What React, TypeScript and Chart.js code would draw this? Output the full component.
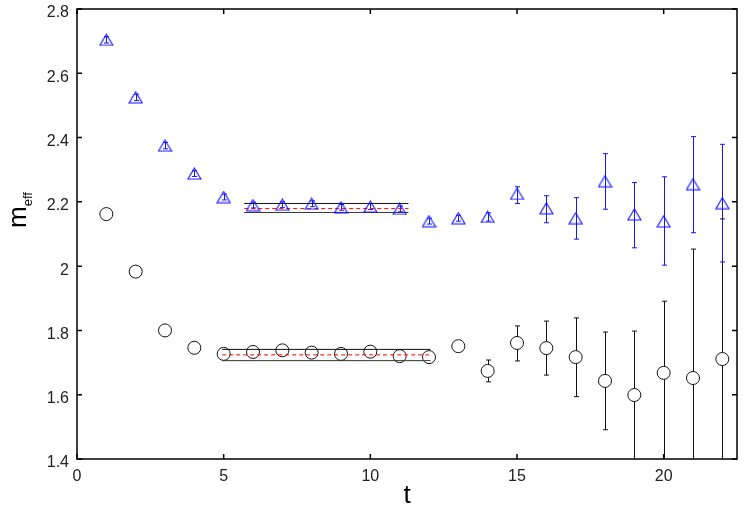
import React, { useEffect, useRef } from "react";
import { Chart, registerables } from "chart.js";

Chart.register(...registerables);

// ---- data ----
const tValues = [1, 2, 3, 4, 5, 6, 7, 8, 9, 10, 11, 12, 13, 14, 15, 16, 17, 18, 19, 20, 21, 22];

const circleMeff = [2.162, 1.983, 1.8, 1.746, 1.727, 1.733, 1.738, 1.731, 1.727, 1.734, 1.72, 1.717, 1.751, 1.674, 1.761, 1.745, 1.717, 1.643, 1.599, 1.668, 1.652, 1.711];
const circleErrLow = [2.157, 1.978, 1.795, 1.741, 1.722, 1.728, 1.733, 1.726, 1.722, 1.729, 1.715, 1.712, 1.746, 1.64, 1.705, 1.661, 1.594, 1.491, 1.39, 1.3, 1.25, 1.25];
const circleErrHigh = [2.167, 1.988, 1.805, 1.751, 1.732, 1.738, 1.743, 1.736, 1.732, 1.739, 1.725, 1.722, 1.756, 1.708, 1.814, 1.829, 1.839, 1.795, 1.798, 1.891, 2.053, 2.147];

const triMeff = [2.704, 2.525, 2.375, 2.288, 2.215, 2.19, 2.191, 2.194, 2.183, 2.185, 2.178, 2.14, 2.149, 2.153, 2.225, 2.18, 2.149, 2.264, 2.161, 2.139, 2.255, 2.196];
const triErrLow = [2.694, 2.515, 2.365, 2.279, 2.206, 2.181, 2.182, 2.185, 2.174, 2.176, 2.169, 2.131, 2.14, 2.14, 2.195, 2.135, 2.084, 2.177, 2.057, 2.003, 2.104, 2.013];
const triErrHigh = [2.714, 2.535, 2.385, 2.297, 2.224, 2.199, 2.2, 2.203, 2.192, 2.194, 2.187, 2.149, 2.158, 2.166, 2.247, 2.219, 2.213, 2.35, 2.26, 2.278, 2.403, 2.379];

// fit bands: [central, lower, upper] over a t range
const circleFitRange = [4.95, 12.05];
const circleFit = [1.724, 1.706, 1.741];
const triFitRange = [5.7, 11.3];
const triFit = [2.179, 2.167, 2.195];

const xTicks = [0, 5, 10, 15, 20];
const xTickLabels = ["0", "5", "10", "15", "20"];
const yTicks = [1.4, 1.6, 1.8, 2.0, 2.2, 2.4, 2.6, 2.8];
const yTickLabels = ["1.4", "1.6", "1.8", "2", "2.2", "2.4", "2.6", "2.8"];

const xTitle = "t";
const yTitleMain = "m";
const yTitleSub = "eff";

const BLUE = "#1414ff";
const FONT = "'Liberation Sans', Arial, sans-serif";

function makeTriangle(): HTMLCanvasElement {
  const c = document.createElement("canvas");
  c.width = 15;
  c.height = 13;
  const ctx = c.getContext("2d")!;
  ctx.strokeStyle = BLUE;
  ctx.lineWidth = 1.1;
  ctx.beginPath();
  ctx.moveTo(7.5, 1);
  ctx.lineTo(14, 12);
  ctx.lineTo(1, 12);
  ctx.closePath();
  ctx.stroke();
  return c;
}

const decorPlugin = {
  id: "decor",
  beforeDatasetsDraw(chart: any) {
    const { ctx, chartArea } = chart;
    const xs = chart.scales.x;
    const ys = chart.scales.y;
    ctx.save();
    ctx.beginPath();
    ctx.rect(chartArea.left, chartArea.top, chartArea.right - chartArea.left, chartArea.bottom - chartArea.top);
    ctx.clip();
    const drawBars = (low: number[], high: number[], color: string) => {
      ctx.strokeStyle = color;
      ctx.lineWidth = 1;
      for (let i = 0; i < tValues.length; i++) {
        const x = Math.round(xs.getPixelForValue(tValues[i])) + 0.5;
        const y1 = ys.getPixelForValue(low[i]);
        const y2 = ys.getPixelForValue(high[i]);
        ctx.beginPath();
        ctx.moveTo(x, y1);
        ctx.lineTo(x, y2);
        ctx.moveTo(x - 2.5, y1);
        ctx.lineTo(x + 2.5, y1);
        ctx.moveTo(x - 2.5, y2);
        ctx.lineTo(x + 2.5, y2);
        ctx.stroke();
      }
    };
    drawBars(circleErrLow, circleErrHigh, "#111");
    drawBars(triErrLow, triErrHigh, BLUE);
    ctx.restore();
  },
  afterDraw(chart: any) {
    const { ctx, chartArea } = chart;
    const xs = chart.scales.x;
    const ys = chart.scales.y;
    const { left, right, top, bottom } = chartArea;
    ctx.save();
    ctx.strokeStyle = "#000";
    ctx.lineWidth = 1.5;
    ctx.strokeRect(left, top, right - left, bottom - top);
    ctx.lineWidth = 1.5;
    ctx.beginPath();
    const tl = 5;
    yTicks.forEach((v) => {
      const y = ys.getPixelForValue(v);
      ctx.moveTo(left, y);
      ctx.lineTo(left + tl, y);
      ctx.moveTo(right, y);
      ctx.lineTo(right - tl, y);
    });
    xTicks.forEach((v) => {
      const x = xs.getPixelForValue(v);
      ctx.moveTo(x, bottom);
      ctx.lineTo(x, bottom - tl);
      ctx.moveTo(x, top);
      ctx.lineTo(x, top + tl);
    });
    ctx.stroke();

    // x title
    ctx.fillStyle = "#000";
    ctx.font = `26px ${FONT}`;
    ctx.textAlign = "center";
    ctx.textBaseline = "alphabetic";
    ctx.fillText(xTitle, (left + right) / 2, 503);

    // y title, rotated with subscript
    ctx.translate(26, 228);
    ctx.rotate(-Math.PI / 2);
    ctx.textAlign = "left";
    ctx.font = `26px ${FONT}`;
    ctx.fillText(yTitleMain, 0, 0);
    const w = ctx.measureText(yTitleMain).width;
    ctx.font = `13px ${FONT}`;
    ctx.fillText(yTitleSub, w, 5.5);
    ctx.restore();
  },
};

export default function App() {
  const ref = useRef<HTMLCanvasElement | null>(null);
  useEffect(() => {
    if (!ref.current) return;
    const tri = makeTriangle();
    const chart = new Chart(ref.current, {
      type: "scatter",
      data: {
        datasets: [
          {
            label: "circles",
            data: tValues.map((t, i) => ({ x: t, y: circleMeff[i] })),
            pointStyle: "circle",
            pointRadius: 6.5,
            borderColor: "#111",
            backgroundColor: "#fff",
            borderWidth: 1,
            order: 3,
          },
          {
            label: "circle fit upper",
            data: [{ x: circleFitRange[0], y: circleFit[2] }, { x: circleFitRange[1], y: circleFit[2] }],
            showLine: true,
            borderColor: "#111",
            borderWidth: 1,
            pointRadius: 0,
            order: 2,
          },
          {
            label: "circle fit lower",
            data: [{ x: circleFitRange[0], y: circleFit[1] }, { x: circleFitRange[1], y: circleFit[1] }],
            showLine: true,
            borderColor: "#333",
            borderWidth: 1,
            pointRadius: 0,
            order: 2,
          },
          {
            label: "circle fit",
            data: [{ x: circleFitRange[0], y: circleFit[0] }, { x: circleFitRange[1], y: circleFit[0] }],
            showLine: true,
            borderColor: "#ff0000",
            borderWidth: 1,
            borderDash: [4, 3],
            pointRadius: 0,
            order: 2,
          },
          {
            label: "tri fit upper",
            data: [{ x: triFitRange[0], y: triFit[2] }, { x: triFitRange[1], y: triFit[2] }],
            showLine: true,
            borderColor: "#111",
            borderWidth: 1,
            pointRadius: 0,
            order: 2,
          },
          {
            label: "tri fit lower",
            data: [{ x: triFitRange[0], y: triFit[1] }, { x: triFitRange[1], y: triFit[1] }],
            showLine: true,
            borderColor: "#333",
            borderWidth: 1,
            pointRadius: 0,
            order: 2,
          },
          {
            label: "tri fit",
            data: [{ x: triFitRange[0], y: triFit[0] }, { x: triFitRange[1], y: triFit[0] }],
            showLine: true,
            borderColor: "#ff0000",
            borderWidth: 1,
            borderDash: [4, 3],
            pointRadius: 0,
            order: 2,
          },
          {
            label: "triangles",
            data: tValues.map((t, i) => ({ x: t, y: triMeff[i] })),
            pointStyle: tri as any,
            pointRadius: 7,
            borderColor: BLUE,
            backgroundColor: "rgba(0,0,0,0)",
            order: 1,
          },
        ],
      },
      options: {
        animation: false,
        responsive: true,
        maintainAspectRatio: false,
        layout: { padding: { top: 9, right: 2, left: 0, bottom: 0 } },
        plugins: { legend: { display: false }, tooltip: { enabled: false } },
        scales: {
          x: {
            type: "linear",
            position: "bottom",
            min: 0,
            max: 22.5,
            grid: { display: false, drawTicks: false },
            border: { display: false },
            afterBuildTicks: (s: any) => {
              s.ticks = xTicks.map((v) => ({ value: v }));
            },
            afterFit: (s: any) => {
              s.height = 52;
              s.paddingLeft = 0;
              s.paddingRight = 0;
            },
            ticks: {
              padding: 8,
              color: "#222",
              font: { family: FONT, size: 16 },
              callback: (v: any) => {
                const i = xTicks.indexOf(Number(v));
                return i >= 0 ? xTickLabels[i] : "";
              },
            },
          },
          y: {
            type: "linear",
            min: 1.4,
            max: 2.8,
            grid: { display: false, drawTicks: false },
            border: { display: false },
            afterBuildTicks: (s: any) => {
              s.ticks = yTicks.map((v) => ({ value: v }));
            },
            afterFit: (s: any) => {
              s.width = 77;
              s.paddingTop = 0;
              s.paddingBottom = 0;
            },
            ticks: {
              padding: 8,
              labelOffset: 4,
              color: "#222",
              font: { family: FONT, size: 16 },
              callback: (v: any) => {
                const i = yTicks.findIndex((t) => Math.abs(t - Number(v)) < 1e-6);
                return i >= 0 ? yTickLabels[i] : "";
              },
            },
          },
        },
      },
      plugins: [decorPlugin],
    });
    return () => chart.destroy();
  }, []);

  return (
    <div style={{ position: "fixed", left: 0, top: 0, width: 745, height: 511, background: "#fff" }}>
      <canvas ref={ref} />
    </div>
  );
}
